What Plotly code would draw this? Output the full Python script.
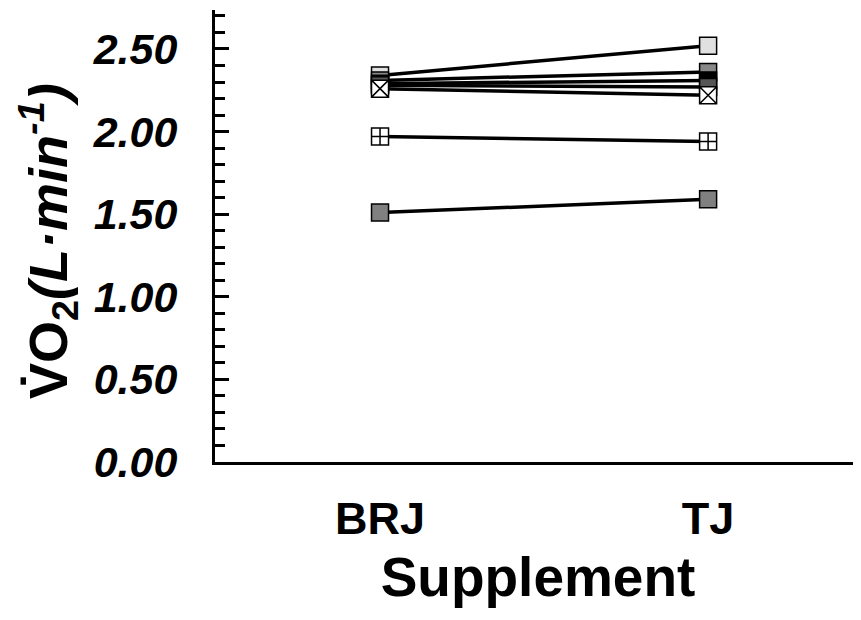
import plotly.graph_objects as go

categories = ["BRJ", "TJ"]
subjects = ["S1", "S2", "S3", "S4", "S5", "S6", "S7"]
brj_values = [2.34, 2.31, 2.29, 2.28, 2.26, 1.97, 1.51]
tj_values = [2.52, 2.36, 2.31, 2.27, 2.22, 1.94, 1.59]
y_tick_vals = [0.0, 0.5, 1.0, 1.5, 2.0, 2.5]
y_tick_text = ["0.00", "0.50", "1.00", "1.50", "2.00", "2.50"]

# marker styles approximating the hatched squares
symbols = ["square", "square", "square", "square", "square-x", "square-cross", "square"]
fills = ["#e0e0e0", "#888888", "#000000", "#555555", "#ffffff", "#ffffff", "#808080"]

FONT = "Liberation Sans, Arial, Helvetica, sans-serif"

fig = go.Figure()
for i, s in enumerate(subjects):
    fig.add_trace(go.Scatter(
        x=categories, y=[brj_values[i], tj_values[i]],
        mode="lines+markers", name=s,
        line=dict(color="black", width=3.5),
        marker=dict(symbol=symbols[i], size=17, color=fills[i],
                    line=dict(color="black", width=1.5)),
        showlegend=False,
    ))

fig.update_layout(
    width=853, height=612,
    margin=dict(l=207, r=0, t=2, b=158),
    paper_bgcolor="white", plot_bgcolor="white",
    font=dict(family=FONT, color="black"),
    xaxis=dict(
        type="category", range=[-0.503, 1.466],
        showline=True, linecolor="black", linewidth=3,
        showgrid=False, zeroline=False, ticks="",
        tickfont=dict(size=45, family=FONT, weight="bold"),
        ticklabelstandoff=15,
        title=dict(text="<b>Supplement</b>", font=dict(size=55, family=FONT), standoff=15),
    ),
    yaxis=dict(
        range=[0, 2.736],
        showline=True, linecolor="black", linewidth=3,
        showgrid=False, zeroline=False,
        tickvals=y_tick_vals, ticktext=y_tick_text,
        ticks="inside", ticklen=14, tickwidth=3, tickcolor="black",
        minor=dict(dtick=0.1, ticks="inside", ticklen=10, tickwidth=3, tickcolor="black"),
        tickfont=dict(size=43, family=FONT, weight="bold", style="italic"),
        ticklabelstandoff=26,
    ),
)

fig.add_annotation(
    xref="paper", yref="paper", x=(40 - 207) / 646, y=0.489,
    xanchor="center", yanchor="middle", textangle=-90, showarrow=False,
    text="<b>V\u0307O<sub>2</sub><i>(L\u00b7min<sup>-1</sup>)</i></b>",
    font=dict(size=54, family=FONT, color="black"),
)

fig.write_html("out.html")
